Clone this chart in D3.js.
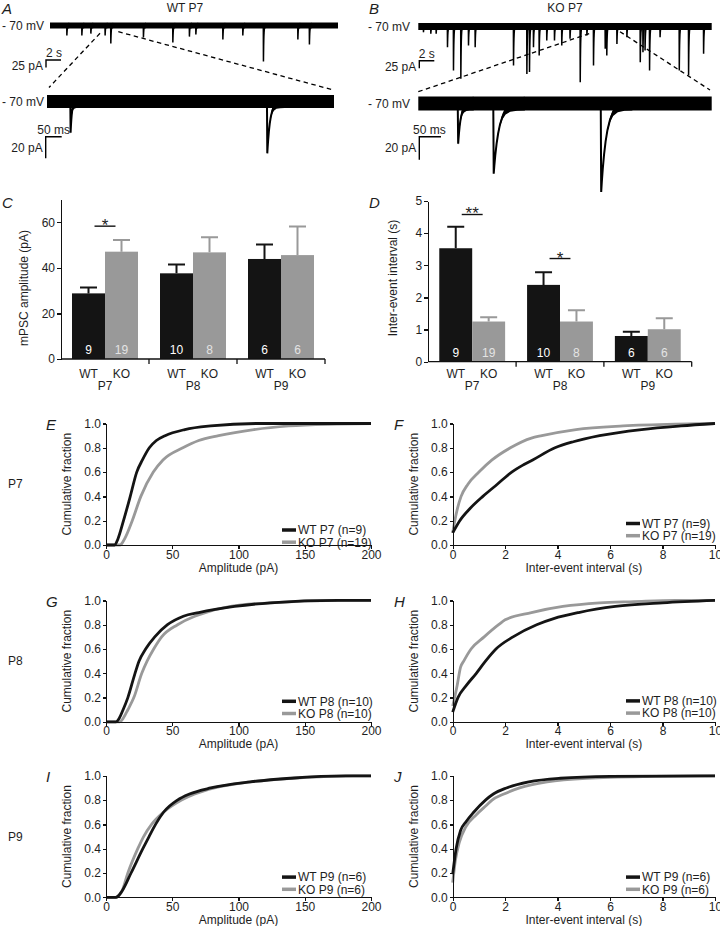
<!DOCTYPE html>
<html><head><meta charset="utf-8">
<script src="https://cdn.jsdelivr.net/npm/d3@7"></script>
<style>
body{margin:0;background:#fff}
svg text{font-family:"Liberation Sans",Arial,Helvetica,sans-serif;fill:#1e1e1e}
.ax path,.ax line{stroke:#111;stroke-width:1.3;shape-rendering:crispEdges}
.ax text{font-size:12px}
</style>
</head><body>
<svg id="fig" width="720" height="926"></svg>
<script>
// ================= DATA =================
const groups = ["P7", "P8", "P9"];
const genotypes = ["WT", "KO"];
// Panel C: mPSC amplitude (pA), mean and SEM
const ampWT = [28.8, 37.6, 43.9];
const ampWTsem = [2.6, 3.9, 6.4];
const ampKO = [47.1, 46.8, 45.6];
const ampKOsem = [5.1, 6.6, 12.6];
// Panel D: inter-event interval (s)
const iviWT = [3.53, 2.39, 0.80];
const iviWTsem = [0.67, 0.39, 0.13];
const iviKO = [1.25, 1.25, 1.01];
const iviKOsem = [0.13, 0.35, 0.34];
// cell counts shown in bars
const nWT = [9, 10, 6];
const nKO = [19, 8, 6];
// cell counts in cumulative legends
const cumNWT = [9, 10, 6];
const cumNKO = [19, 10, 6];
const ampTicks = [0, 20, 40, 60];
const iviTicks = [0, 1, 2, 3, 4, 5];
const cumAmpTicks = [0, 50, 100, 150, 200];
const cumIviTicks = [0, 2, 4, 6, 8, 10];
const cumYTicks = [0, 0.2, 0.4, 0.6, 0.8, 1.0];

// Example traces: events [time, amplitude pA, decay tau]
const traceAtopEvents = [ // time in s
  [2.23,33,0.05],[4.23,33,0.05],[5.43,27,0.05],[7.33,33,0.05],[8.09,60,0.05],[12.44,40,0.05],
  [16.36,57,0.05],[18.57,37,0.05],[19.43,30,0.05],[23.03,47,0.05],[25.69,33,0.05],
  [28.44,120,0.05],[33.03,47,0.05],[34.57,63,0.05]];
const traceAbotEvents = [ // time in ms
  [72.8,29,4],[687.5,48,9]];
const traceBtopEvents = [ // time in s
  [0.67,19,0.05],[1.65,24,0.05],[2.36,24,0.05],[3.87,69,0.05],[4.67,147,0.05],[5.65,174,0.05],
  [6.67,63,0.05],[7.56,69,0.05],[12.67,130,0.05],[14.45,158,0.05],[14.8,152,0.05],[15.33,69,0.05],
  [16.09,97,0.05],[17.1,47,0.05],[18.13,47,0.05],[19.1,63,0.05],[20.2,41,0.05],[21.56,186,0.05],
  [22.45,30,0.05],[23.33,130,0.05],[24.89,74,0.05],[25.1,97,0.05],[26.45,58,0.05],[27.78,36,0.05],
  [29.56,119,0.05],[29.92,86,0.05],[30.2,80,0.05],[30.8,147,0.05],[32.2,36,0.05],[34.76,147,0.05],
  [36.0,163,0.05],[38.0,91,0.05]];
const traceBbotEvents = [ // time in ms
  [91,35,6],[173,61,12],[421,77,12]];

// Cumulative distributions [x, fraction]
const cdfAmpWT_P7 = [[0,0],[6.5,0],[9,0.05],[13.2,0.2],[18.3,0.4],[23.2,0.6],[27.5,0.7],[32.7,0.8],[38,0.86],[44.6,0.9],[59.5,0.95],[79,0.98],[115,1.0],[200,1.0]];
const cdfAmpKO_P7 = [[0,0],[10.5,0],[14,0.05],[19.8,0.2],[26.3,0.4],[35.7,0.6],[43,0.7],[58,0.8],[70,0.86],[85,0.9],[111.6,0.95],[138,0.98],[174,0.995],[200,1.0]];
const cdfIviWT_P7 = [[0,0.1],[0.27,0.2],[0.66,0.3],[1.15,0.4],[1.7,0.5],[2.25,0.6],[2.7,0.66],[3.05,0.7],[3.9,0.8],[4.6,0.85],[5.6,0.9],[7.2,0.95],[8.7,0.98],[10,1.0]];
const cdfIviKO_P7 = [[0,0.1],[0.08,0.2],[0.18,0.3],[0.32,0.4],[0.58,0.5],[1.0,0.6],[1.5,0.7],[2.2,0.8],[3.0,0.88],[3.4,0.9],[4.7,0.95],[6.5,0.98],[8.5,0.995],[10,1.0]];
const cdfAmpWT_P8 = [[0,0],[7.5,0],[10,0.03],[12.9,0.1],[16.5,0.2],[21.9,0.4],[24.9,0.5],[29.9,0.6],[36.8,0.7],[46.4,0.8],[58.4,0.87],[70,0.9],[97,0.95],[124,0.98],[175,1.0],[200,1.0]];
const cdfAmpKO_P8 = [[0,0],[10.5,0],[13,0.03],[16.5,0.1],[21,0.2],[27,0.4],[31,0.5],[36,0.6],[42,0.7],[54,0.8],[67,0.87],[75,0.9],[94,0.95],[124,0.98],[181,1.0],[200,1.0]];
const cdfIviWT_P8 = [[0,0.08],[0.2,0.2],[0.52,0.3],[0.9,0.4],[1.25,0.5],[1.65,0.6],[2.3,0.7],[3.2,0.8],[3.85,0.85],[4.8,0.9],[6.2,0.95],[8.0,0.98],[10,1.0]];
const cdfIviKO_P8 = [[0,0.13],[0.17,0.3],[0.3,0.45],[0.42,0.5],[0.7,0.6],[1.2,0.7],[1.75,0.8],[2.0,0.84],[3.0,0.9],[4.2,0.95],[5.6,0.98],[6.9,0.99],[8.5,1.0],[10,1.0]];
const cdfAmpWT_P9 = [[0,0],[7.5,0],[12,0.05],[18.9,0.2],[27.8,0.4],[32.5,0.5],[37.4,0.6],[43.4,0.7],[53.9,0.8],[63,0.85],[79,0.9],[109,0.95],[139,0.98],[181,1.0],[200,1.0]];
const cdfAmpKO_P9 = [[0,0],[7,0],[12,0.05],[16.5,0.2],[24,0.4],[28.4,0.5],[34.4,0.6],[43.4,0.7],[57,0.8],[67,0.85],[82,0.9],[109,0.95],[142,0.98],[187,1.0],[200,1.0]];
const cdfIviWT_P9 = [[0,0.19],[0.13,0.4],[0.3,0.55],[0.5,0.62],[0.8,0.7],[1.25,0.8],[1.55,0.85],[2.05,0.9],[2.9,0.95],[4.1,0.98],[6,0.995],[10,1.0]];
const cdfIviKO_P9 = [[0,0.12],[0.1,0.3],[0.25,0.45],[0.5,0.58],[0.9,0.68],[1.3,0.76],[1.5,0.8],[1.95,0.85],[2.55,0.9],[3.6,0.95],[5.1,0.98],[7.7,0.995],[10,1.0]];

// ================= DRAW =================
const svg = d3.select("#fig");
const WT_COL = "#141414", KO_COL = "#999999";

function letter(txt, x, y) {
  svg.append("text").attr("x", x).attr("y", y).attr("font-size", 15).attr("font-style", "italic").text(txt);
}
function label(txt, x, y, anchor, size) {
  return svg.append("text").attr("x", x).attr("y", y).attr("text-anchor", anchor || "start")
    .attr("font-size", size || 12).text(txt);
}

// ---------- traces ----------
function drawTrace(c) {
  const g = svg.append("g");
  const x = d3.scaleLinear().domain([0, c.tmax]).range([c.x0, c.x1]);
  const y = d3.scaleLinear().domain([0, 100]).range([c.y0, c.y0 + 100 * c.k]);
  const ev = c.events.slice().sort((a, b) => a[0] - b[0]);
  const steps = [0.12, 0.3, 0.55, 0.85, 1.2, 1.7, 2.3, 3.2, 4.5, 6];
  g.append("rect").attr("x", x(0)).attr("width", x(c.tmax) - x(0))
    .attr("y", y(0) - c.noise / 2).attr("height", c.noise).attr("fill", "#000");
  const h = s => c.noise / 2 / (1 + s / c.s0);
  const area = d3.area().x(d => x(d[0])).y0(d => y(d[1]) - h(d[1])).y1(d => y(d[1]) + h(d[1]));
  const line = d3.line().x(d => x(d[0])).y(d => y(d[1]));
  ev.forEach((e, i) => {
    const [t0, amp, tau] = e;
    const next = i < ev.length - 1 ? ev[i + 1][0] : c.tmax;
    const pts = [[t0, 0], [t0 + c.rise, amp]];
    for (const s of steps) {
      const t = t0 + c.rise + tau * s;
      if (t < next) pts.push([t, amp * Math.exp(-s)]);
    }
    g.append("path").attr("d", area(pts)).attr("fill", "#000");
    g.append("path").attr("d", line(pts)).attr("fill", "none").attr("stroke", "#000")
      .attr("stroke-width", c.lw).attr("stroke-linejoin", "miter");
  });
  const hl = x(c.sbT) - x(0), vl = c.sbA * c.k;
  g.append("path").attr("d", `M${c.sbx + hl},${c.sby}H${c.sbx}V${c.sby + vl}`)
    .attr("fill", "none").attr("stroke", "#000").attr("stroke-width", 1.4);
  label(c.sbTlabel, c.sbx + c.tlabDx, c.sby - 3, "middle");
  label(c.sbAlabel, c.sbx - 3, c.sby + c.alabDy, "end");
  label("- 70 mV", c.mvx, c.y0 + 4, "start");
  return x;
}

drawTrace({x0: 50, x1: 338, y0: 25.5, tmax: 38.4, k: 0.3, events: traceAtopEvents, rise: 0.02,
  noise: 6, s0: 6, lw: 1.5, sbx: 46, sby: 60, sbT: 2, sbA: 25, sbTlabel: "2 s", sbAlabel: "25 pA",
  tlabDx: 8, alabDy: 10, mvx: 2});
drawTrace({x0: 47, x1: 334, y0: 101.5, tmax: 897, k: 1.08, events: traceAbotEvents, rise: 1,
  noise: 13, s0: 8, lw: 2, sbx: 45.7, sby: 136.7, sbT: 50, sbA: 20, sbTlabel: "50 ms", sbAlabel: "20 pA",
  tlabDx: 8, alabDy: 15, mvx: 2});
drawTrace({x0: 418.3, x1: 711.7, y0: 26.5, tmax: 39.1, k: 0.3, events: traceBtopEvents, rise: 0.02,
  noise: 7, s0: 6, lw: 1.5, sbx: 419.3, sby: 60.7, sbT: 2, sbA: 25, sbTlabel: "2 s", sbAlabel: "25 pA",
  tlabDx: 7.5, alabDy: 10, mvx: 368});
drawTrace({x0: 418.3, x1: 711.7, y0: 103.5, tmax: 677, k: 1.15, events: traceBbotEvents, rise: 1,
  noise: 14, s0: 8, lw: 2, sbx: 419.3, sby: 136.7, sbT: 50, sbA: 20, sbTlabel: "50 ms", sbAlabel: "20 pA",
  tlabDx: 10, alabDy: 15, mvx: 368});

const dashLines = [[100, 33.3, 49, 87.5], [118.3, 31.7, 333.3, 90], [418.3, 91.7, 590, 33.3], [620, 31.7, 710, 90]];
svg.selectAll(".dash").data(dashLines).join("line")
  .attr("x1", d => d[0]).attr("y1", d => d[1]).attr("x2", d => d[2]).attr("y2", d => d[3])
  .attr("stroke", "#000").attr("stroke-width", 1.3).attr("stroke-dasharray", "4.5,3.5");

label("WT P7", 185, 12, "middle");
label("KO P7", 565, 12, "middle");
letter("A", 2, 14);
letter("B", 369, 14);

// ---------- bar charts ----------
function barChart(o) {
  const y = d3.scaleLinear().domain([0, o.ymax]).range([o.y0, o.yTop]);
  const gx = d3.scaleBand().domain(groups).range([o.x0, o.x1]);
  const bw = gx.bandwidth();
  const sx = d3.scaleBand().domain(genotypes).range([bw * 0.125, bw * 0.875]);
  const rows = [];
  groups.forEach((grp, i) => {
    rows.push({grp, geno: "WT", v: o.wt[i], e: o.wtSem[i], n: nWT[i]});
    rows.push({grp, geno: "KO", v: o.ko[i], e: o.koSem[i], n: nKO[i]});
  });
  const g = svg.append("g");
  const cx = d => gx(d.grp) + sx(d.geno) + sx.bandwidth() / 2;
  g.selectAll(".eb").data(rows).join("path")
    .attr("d", d => `M${cx(d)},${y(d.v)}V${y(d.v + d.e)}M${cx(d) - 8.5},${y(d.v + d.e)}H${cx(d) + 8.5}`)
    .attr("stroke", d => d.geno === "WT" ? WT_COL : KO_COL).attr("stroke-width", 2).attr("fill", "none");
  g.selectAll(".bar").data(rows).join("rect")
    .attr("x", d => gx(d.grp) + sx(d.geno)).attr("width", sx.bandwidth())
    .attr("y", d => y(d.v)).attr("height", d => y(0) - y(d.v))
    .attr("fill", d => d.geno === "WT" ? WT_COL : KO_COL);
  g.selectAll(".nl").data(rows).join("text")
    .attr("x", cx).attr("y", o.y0 - 5).attr("text-anchor", "middle").attr("font-size", 12)
    .style("fill", d => d.geno === "WT" ? "#fff" : "#e4e4e4").text(d => d.n);
  svg.append("g").attr("class", "ax").attr("transform", `translate(${o.x0},0)`)
    .call(d3.axisLeft(y).tickValues(o.ticks).tickSize(4).tickPadding(2).tickSizeOuter(0).tickFormat(d3.format("d")));
  svg.append("path").attr("d", `M${o.x0},${o.y0}H${o.x1}`)
    .attr("stroke", "#111").attr("stroke-width", 1.3);
  svg.selectAll(null).data(groups).join("line")
    .attr("x1", d => gx(d) + bw).attr("x2", d => gx(d) + bw).attr("y1", o.y0).attr("y2", o.y0 + 5)
    .attr("stroke", "#111").attr("stroke-width", 1.3);
  svg.selectAll(null).data(rows).join("text")
    .attr("x", cx).attr("y", 377.5).attr("text-anchor", "middle").attr("font-size", 12).text(d => d.geno);
  svg.selectAll(null).data(groups).join("text")
    .attr("x", d => gx(d) + bw / 2).attr("y", 390).attr("text-anchor", "middle").attr("font-size", 12).text(d => d);
  svg.append("text").attr("transform", `translate(${o.x0 - o.labDx},${o.labY}) rotate(-90)`)
    .attr("text-anchor", "middle").attr("font-size", 12).text(o.ylabel);
  o.sig.forEach(s => {
    const a = gx(s.grp) + sx("WT") + sx.bandwidth() / 2 + 6, b = gx(s.grp) + sx("KO") + sx.bandwidth() / 2 - 6;
    svg.append("line").attr("x1", a).attr("x2", b).attr("y1", y(s.at)).attr("y2", y(s.at))
      .attr("stroke", "#111").attr("stroke-width", 1.4);
    svg.append("text").attr("x", (a + b) / 2).attr("y", y(s.at) + 5).attr("text-anchor", "middle")
      .attr("font-size", 17).text(s.txt);
  });
}

barChart({x0: 61, x1: 325, y0: 359, yTop: 199.5, ymax: 70, ticks: ampTicks, wt: ampWT, wtSem: ampWTsem,
  ko: ampKO, koSem: ampKOsem, ylabel: "mPSC amplitude (pA)", labDx: 32.7, labY: 288,
  sig: [{grp: "P7", at: 58.3, txt: "*"}]});
barChart({x0: 428.3, x1: 691.7, y0: 361.7, yTop: 201, ymax: 5, ticks: iviTicks, wt: iviWT, wtSem: iviWTsem,
  ko: iviKO, koSem: iviKOsem, ylabel: "Inter-event interval (s)", labDx: 31.6, labY: 278,
  sig: [{grp: "P7", at: 4.58, txt: "**"}, {grp: "P8", at: 3.21, txt: "*"}]});
letter("C", 2, 208);
letter("D", 369, 208);

// ---------- cumulative panels ----------
const cumData = [
  [cdfAmpWT_P7, cdfAmpKO_P7, cdfIviWT_P7, cdfIviKO_P7],
  [cdfAmpWT_P8, cdfAmpKO_P8, cdfIviWT_P8, cdfIviKO_P8],
  [cdfAmpWT_P9, cdfAmpKO_P9, cdfIviWT_P9, cdfIviKO_P9]];
const rowBottoms = [545, 721.9, 897.3];
const letters = [["E", "F"], ["G", "H"], ["I", "J"]];
const legOffsets = [[[-15, -2.8], [-21.5, -9.3]], [[-20.6, -8.4], [-21, -8.8]], [[-20.2, -8], [-20.2, -8]]];
const panelCols = [
  {x0: 106, x1: 371, dom: [0, 200], ticks: cumAmpTicks, xlabel: "Amplitude (pA)", fmt: d3.format("d"), lx: 46},
  {x0: 452.7, x1: 715, dom: [0, 10], ticks: cumIviTicks, xlabel: "Inter-event interval (s)", fmt: d3.format("d"), lx: 394}];

groups.forEach((grp, r) => {
  const yb = rowBottoms[r];
  const y = d3.scaleLinear().domain([0, 1]).range([yb, yb - 121.5]);
  label(grp, 8, (yb + yb - 121.5) / 2 + 4, "start");
  panelCols.forEach((pc, c) => {
    const x = d3.scaleLinear().domain(pc.dom).range([pc.x0, pc.x1]);
    const g = svg.append("g");
    const line = d3.line().x(d => x(d[0])).y(d => y(d[1])).curve(d3.curveMonotoneX);
    const wt = cumData[r][c * 2], ko = cumData[r][c * 2 + 1];
    svg.append("g").attr("class", "ax").attr("transform", `translate(${pc.x0},0)`)
      .call(d3.axisLeft(y).tickValues(cumYTicks).tickSize(3).tickPadding(2).tickSizeOuter(0).tickFormat(d3.format(".1f")));
    svg.append("g").attr("class", "ax").attr("transform", `translate(0,${yb})`)
      .call(d3.axisBottom(x).tickValues(pc.ticks).tickSize(4).tickPadding(1).tickSizeOuter(0).tickFormat(pc.fmt));
    g.append("path").attr("d", line(ko)).attr("fill", "none").attr("stroke", KO_COL).attr("stroke-width", 2.8);
    g.append("path").attr("d", line(wt)).attr("fill", "none").attr("stroke", WT_COL).attr("stroke-width", 2.8);
    label(pc.xlabel, (pc.x0 + pc.x1) / 2, yb + 26.5, "middle");
    svg.append("text").attr("transform", `translate(${pc.x0 - 35},${yb - 60.75}) rotate(-90)`)
      .attr("text-anchor", "middle").attr("font-size", 12).text("Cumulative fraction");
    const lo = legOffsets[r][c];
    const legs = [
      {col: WT_COL, txt: `WT ${grp} (n=${cumNWT[r]})`, dy: lo[0]},
      {col: KO_COL, txt: `KO ${grp} (n=${cumNKO[r]})`, dy: lo[1]}];
    legs.forEach(l => {
      svg.append("line").attr("x1", pc.x1 - 89).attr("x2", pc.x1 - 75).attr("y1", yb + l.dy).attr("y2", yb + l.dy)
        .attr("stroke", l.col).attr("stroke-width", 3.5);
      label(l.txt, pc.x1 - 73, yb + l.dy + 4.3, "start");
    });
    letter(letters[r][c], pc.lx, yb - 115);
  });
});
</script>
</body></html>
